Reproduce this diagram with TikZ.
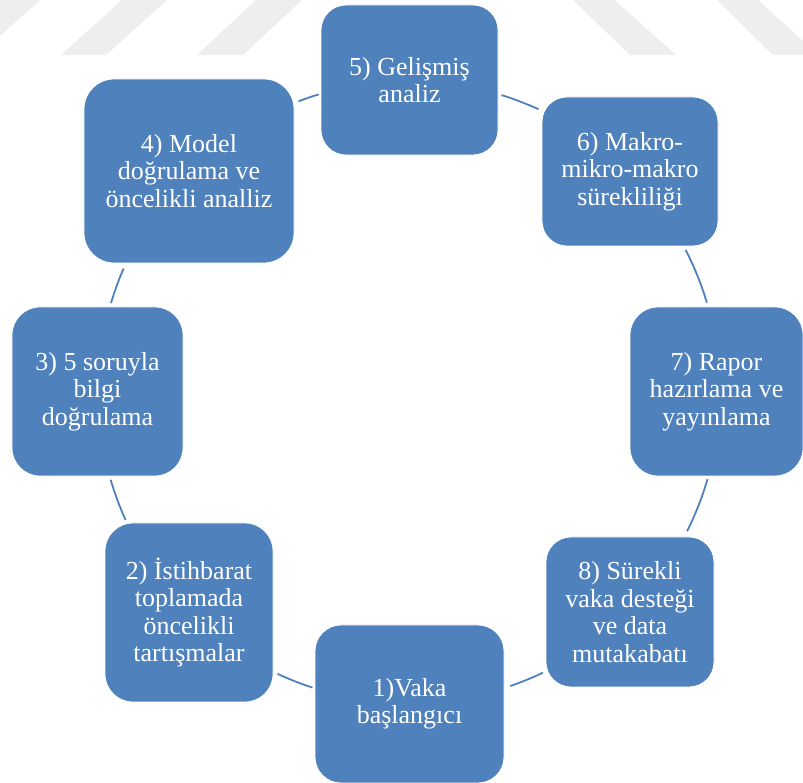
\documentclass[tikz,border=0pt]{standalone}
\usepackage{fontspec}
\setmainfont{Liberation Serif}
\usetikzlibrary{calc}
\definecolor{boxblue}{HTML}{4F81BD}
\definecolor{wmgray}{HTML}{EEEEEE}
\begin{document}
\begin{tikzpicture}[x=1pt,y=1pt,
  stepbox/.style={rectangle, rounded corners=#1, fill=boxblue, draw=white, line width=0.8pt,
    text=white, align=center, inner sep=0pt, font=\fontsize{26}{27.5}\selectfont},
  conn/.style={draw=boxblue, line width=1.8pt},
  wm/.style={fill=wmgray, draw=none}]
\useasboundingbox (0,0) rectangle (803,783);
\fill[white] (0,0) rectangle (803,783);
% faint watermark stripes
\fill[wm] (0,783) -- (40,783) -- (0,747) -- cycle;
\fill[wm] (122,783) -- (167,783) -- (106,728) -- (61,728) -- cycle;
\fill[wm] (256,783) -- (302,783) -- (243,728) -- (197,728) -- cycle;
\fill[wm] (573,783) -- (614,783) -- (676,728) -- (630,728) -- cycle;
\fill[wm] (717,783) -- (758,783) -- (803,742) -- (803,728) -- (773,728) -- cycle;
% cycle centre
\coordinate (c) at (409,391);
% connectors (arcs of the cycle)
\draw[conn] ($(c)+(110.8:311)$) arc[start angle=110.8, end angle=106.9, radius=311];
\draw[conn] ($(c)+(72.7:311)$) arc[start angle=72.7, end angle=65.4, radius=311];
\draw[conn] ($(c)+(27.2:311)$) arc[start angle=27.2, end angle=16.7, radius=311];
\draw[conn] ($(c)+(-16.3:311)$) arc[start angle=-16.3, end angle=-26.6, radius=311];
\draw[conn] ($(c)+(-64.5:311)$) arc[start angle=-64.5, end angle=-71, radius=311];
\draw[conn] ($(c)+(-108.1:311)$) arc[start angle=-108.1, end angle=-115, radius=311];
\draw[conn] ($(c)+(-155.7:311)$) arc[start angle=-155.7, end angle=-163.6, radius=311];
\draw[conn] ($(c)+(163.4:311)$) arc[start angle=163.4, end angle=156.6, radius=311];
% boxes
\node[stepbox=26pt, minimum width=189pt, minimum height=158pt] (n1) at (409.5,79) {1)Vaka\\başlangıcı};
\node[stepbox=28pt, minimum width=168pt, minimum height=179pt] (n2) at (189,170.5) {2) İstihbarat\\toplamada\\öncelikli\\tartışmalar};
\node[stepbox=28pt, minimum width=171pt, minimum height=169pt] (n3) at (97.5,391.5) {3) 5 soruyla\\bilgi\\doğrulama};
\node[stepbox=30pt, minimum width=210pt, minimum height=184pt] (n4) at (189,612) {4) Model\\doğrulama ve\\öncelikli analliz};
\node[stepbox=25pt, minimum width=177pt, minimum height=150pt] (n5) at (409.5,703) {5) Gelişmiş\\analiz};
\node[stepbox=25pt, minimum width=176pt, minimum height=149pt] (n6) at (630,611.5) {6) Makro-\\mikro-makro\\sürekliliği};
\node[stepbox=28pt, minimum width=173pt, minimum height=169pt] (n7) at (716.5,391.5) {7) Rapor\\hazırlama ve\\yayınlama};
\node[stepbox=25pt, minimum width=168pt, minimum height=150pt] (n8) at (630,171) {8) Sürekli\\vaka desteği\\ve data\\mutakabatı};
\end{tikzpicture}
\end{document}
